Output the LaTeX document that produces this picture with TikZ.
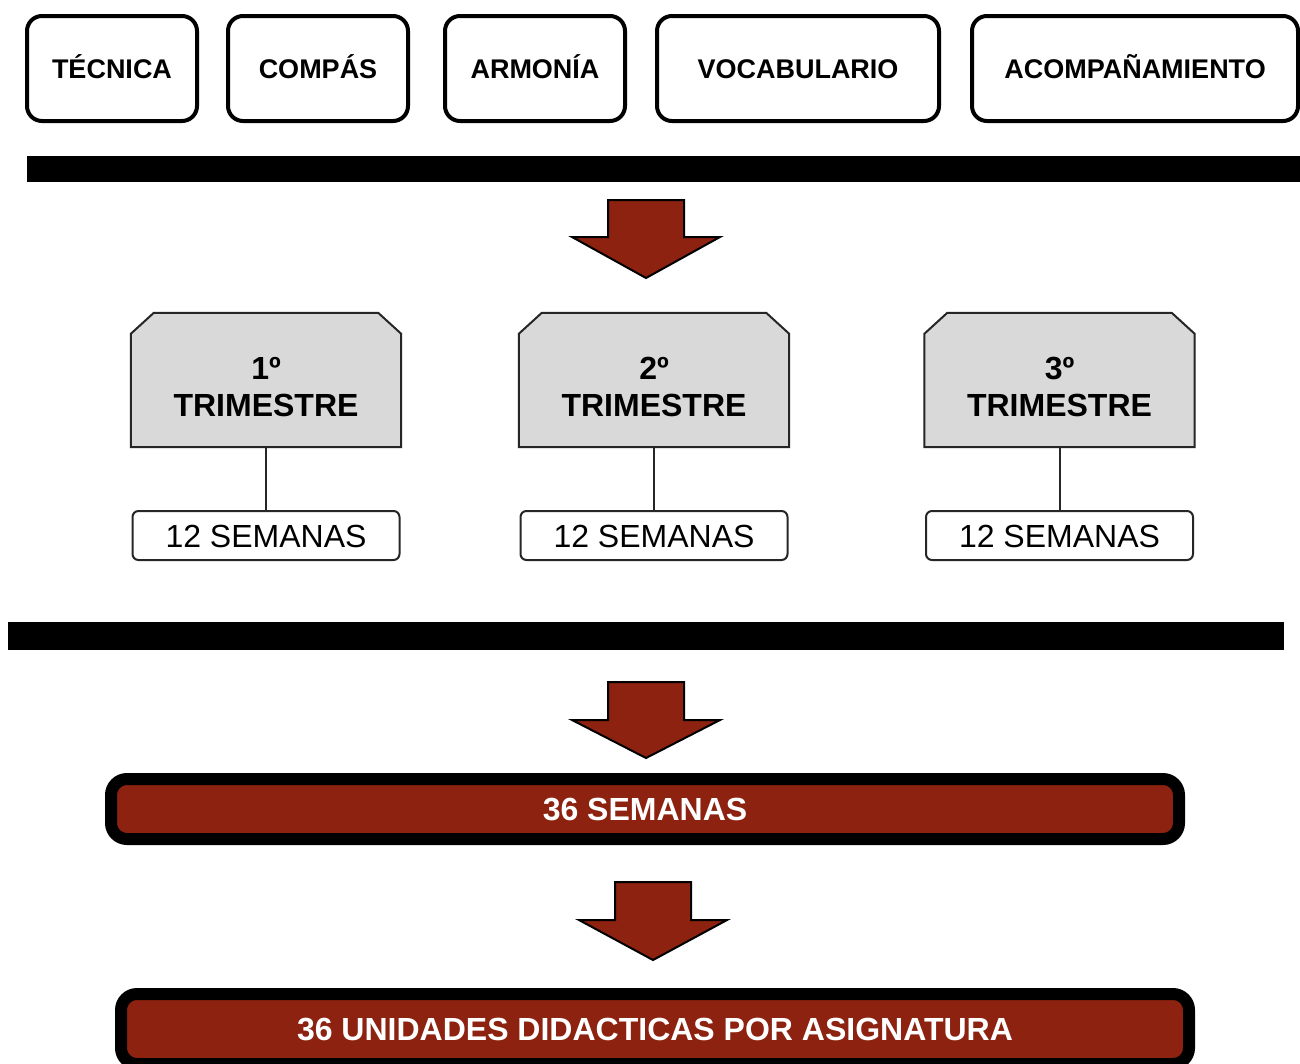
\documentclass[tikz,border=0pt]{standalone}
\usepackage{fontspec}
\setmainfont{Liberation Sans}
\usetikzlibrary{calc}
\definecolor{brick}{RGB}{140,34,15}
\definecolor{trigray}{RGB}{217,217,217}
\tikzset{
  topbox/.style={draw=black, line width=4pt, rounded corners=15pt, minimum height=105pt, font=\fontsize{27}{32}\selectfont\bfseries, inner sep=0pt, text height=19.5pt, text depth=0pt},
  tribox/.style={minimum width=270pt, minimum height=134pt, inner sep=0pt},
  triline/.style={draw=black!85, line width=2pt, fill=trigray, line join=miter},
  tritext/.style={font=\fontsize{32}{37}\selectfont\bfseries, align=center, inner sep=0pt},
  wkbox/.style={draw=black!85, line width=2pt, rounded corners=6pt, minimum width=267pt, minimum height=49pt, font=\fontsize{32}{36}\selectfont, inner sep=0pt, text height=23pt, text depth=0pt},
  link/.style={draw=black!85, line width=2pt},
  bar/.style={fill=black, draw=none, inner sep=0pt},
  redbar/.style={draw=black, line width=12pt, fill=brick, rounded corners=16pt, minimum width=1068pt, inner sep=0pt, text=white, font=\fontsize{32}{36}\selectfont\bfseries, text height=23pt, text depth=0pt},
  blockarrow/.style={fill=brick, draw=black, line width=2pt, line join=miter}
}
\newcommand{\myblockarrow}[5]{% center x, top y, head y, tip y, name
  \coordinate (#5) at (#1,#4);
  \path[blockarrow] ($(#5)+(-38,#2-#4)$) -- ($(#5)+(38,#2-#4)$) -- ($(#5)+(38,#3-#4)$) -- ($(#5)+(74,#3-#4)$) -- (#5) -- ($(#5)+(-74,#3-#4)$) -- ($(#5)+(-38,#3-#4)$) -- cycle;
}
\begin{document}
\begin{tikzpicture}[x=1pt,y=-1pt]
\useasboundingbox (0,0) rectangle (1300,1063);
\fill[white] (0,0) rectangle (1300,1063);
% top boxes
\node[topbox, minimum width=170pt] (tec) at (112,68.5) {TÉCNICA};
\node[topbox, minimum width=180pt] (com) at (318,68.5) {COMPÁS};
\node[topbox, minimum width=180pt] (arm) at (535,68.5) {ARMONÍA};
\node[topbox, minimum width=282pt] (voc) at (798,68.5) {VOCABULARIO};
\node[topbox, minimum width=326pt] (aco) at (1135,68.5) {ACOMPAÑAMIENTO};
% bar 1
\node[bar, minimum width=1273pt, minimum height=26pt] (bar1) at (663.5,169) {};
% arrow 1
\myblockarrow{646}{200}{237}{278}{arr1}
% trimester boxes
\foreach \n/\x/\lab in {t1/266/1º, t2/654/2º, t3/1059.5/3º}{
  \node[tribox] (\n) at (\x,380) {};
  \path[triline] (\n.south west) -- ($(\n.north west)+(0,21)$) -- ($(\n.north west)+(23,0)$) -- ($(\n.north east)+(-23,0)$) -- ($(\n.north east)+(0,21)$) -- (\n.south east) -- cycle;
  \node[tritext] (\n txt) at ($(\n.center)+(0,7)$) {\lab\\TRIMESTRE};
  \node[wkbox] (\n w) at (\x,535.5) {12 SEMANAS};
  \draw[link] (\n.south) -- (\n w.north);
}
% bar 2
\node[bar, minimum width=1276pt, minimum height=28pt] (bar2) at (646,636) {};
% arrow 2
\myblockarrow{646}{682}{720}{758}{arr2}
% red bar 1
\node[redbar, minimum height=60pt] (sem) at (645,809) {36 SEMANAS};
% arrow 3
\myblockarrow{653}{882}{920}{960}{arr3}
% red bar 2
\node[redbar, minimum height=70pt] (uni) at (655,1029) {36 UNIDADES DIDACTICAS POR ASIGNATURA};
\end{tikzpicture}
\end{document}
